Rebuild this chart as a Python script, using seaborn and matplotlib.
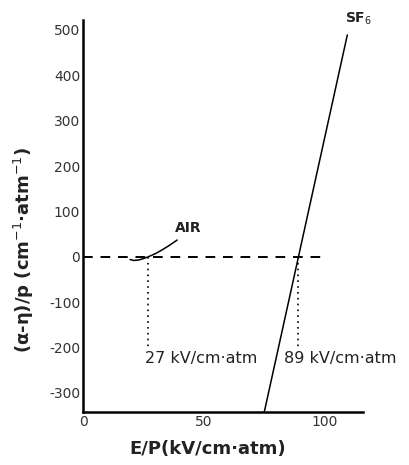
import matplotlib
matplotlib.use("Agg")
import matplotlib.pyplot as plt
import numpy as np
import pandas as pd
import seaborn as sns

air_x = [19.5, 21.0, 23.0, 25.0, 27.0, 30.0, 33.0, 36.0, 39.0]
air_y = [-6.0, -8.0, -7.0, -4.0, 0.0, 7.0, 16.0, 26.0, 37.0]
sf6_x = [75.1, 109.5]
sf6_y = [-342.0, 489.0]
zero_x = [0.0, 101.0]
zero_y = [0.0, 0.0]
crossings = [27, 89]
cross_bottom = -200.0
x_ticks = [0, 50, 100]
y_ticks = [-300, -200, -100, 0, 100, 200, 300, 400, 500]
y_tick_labels = ["-300", "-200", "-100", "0", "100", "200", "300", "400", "500"]

sns.set_style("white")
plt.rcParams["font.family"] = ["DejaVu Sans"]

fig = plt.figure(figsize=(4.09, 4.65), dpi=100)
ax = fig.add_axes([83 / 409, 53 / 465, 280 / 409, 392 / 465])

air = pd.DataFrame({"x": air_x, "y": air_y})
sf6 = pd.DataFrame({"x": sf6_x, "y": sf6_y})
zero = pd.DataFrame({"x": zero_x, "y": zero_y})

sns.lineplot(data=zero, x="x", y="y", ax=ax, color="black", lw=1.4,
             linestyle=(0, (5, 4)), sort=False)
sns.lineplot(data=air, x="x", y="y", ax=ax, color="black", lw=1.1, sort=False)
sns.lineplot(data=sf6, x="x", y="y", ax=ax, color="black", lw=1.1, sort=False)
for cx in crossings:
    ax.plot([cx, cx], [0, cross_bottom], color="black", lw=1.2, linestyle=(0, (1, 2.5)))

ax.text(43.5, 64, "AIR", fontsize=10, fontweight="bold", ha="center", va="center", color="#222222")
ax.text(108.5, 525, r"SF$_6$", fontsize=10, fontweight="bold", ha="left", va="center",
        color="#222222", clip_on=False)
ax.text(25.5, -225, "27 kV/cm·atm", fontsize=11.5, ha="left", va="center", color="#222222")
ax.text(83.3, -225, "89 kV/cm·atm", fontsize=11.5, ha="left", va="center", color="#222222",
        clip_on=False)

ax.set_xlim(0, 116)
ax.set_ylim(-342, 522)
ax.set_xticks(x_ticks)
ax.set_xticklabels([str(t) for t in x_ticks], fontsize=10, color="#333333")
ax.set_yticks(y_ticks)
ax.set_yticklabels(y_tick_labels, fontsize=10, color="#333333")
ax.tick_params(length=0, pad=2)
ax.set_xlabel("E/P(kV/cm·atm)", fontsize=13, fontweight="bold", color="#222222")
ax.set_ylabel("(α-η)/p (cm$^{-1}$·atm$^{-1}$)", fontsize=13, fontweight="bold", color="#222222")
ax.xaxis.set_label_coords(0.446, -0.071)
ax.yaxis.set_label_coords(-0.168, 0.413)
for side in ["top", "right"]:
    ax.spines[side].set_visible(False)
for side in ["left", "bottom"]:
    ax.spines[side].set_color("black")
    ax.spines[side].set_linewidth(1.8)

fig.savefig("out.png", dpi=100)
